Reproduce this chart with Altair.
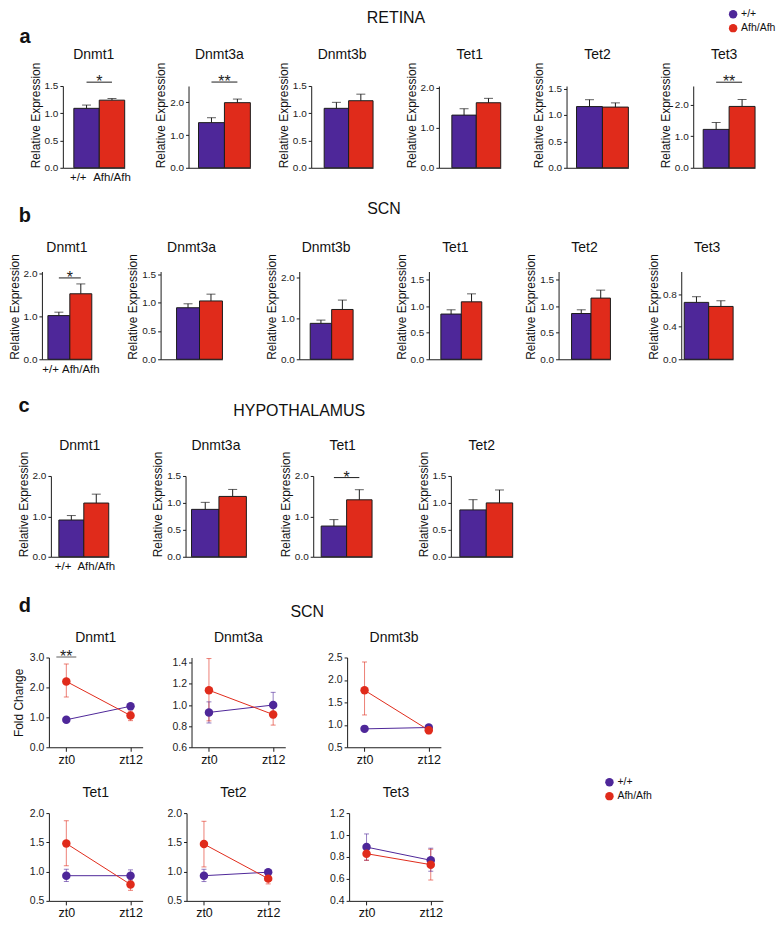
import altair as alt
import pandas as pd

FONT = "Liberation Sans"
PURPLE = "#4e2799"
RED = "#e02b1b"
INK = "#1c1c1c"

genotypes = ["+/+", "Afh/Afh"]

# ---------------- a : RETINA ----------------
a_genes = ["Dnmt1", "Dnmt3a", "Dnmt3b", "Tet1", "Tet2", "Tet3"]
a_wt = [1.09, 1.38, 1.09, 1.32, 1.16, 1.22]
a_wt_hi = [1.15, 1.53, 1.20, 1.48, 1.29, 1.44]
a_mut = [1.24, 1.99, 1.23, 1.63, 1.15, 1.95]
a_mut_hi = [1.27, 2.10, 1.35, 1.74, 1.23, 2.17]
a_ymax = [1.5, 2.5, 1.5, 2.05, 1.55, 2.6]
a_ticks = [[0, 0.5, 1, 1.5], [0, 1, 2], [0, 0.5, 1, 1.5], [0, 1, 2], [0, 0.5, 1, 1.5], [0, 1, 2]]
a_sig = {"Dnmt1": ("*", 1.57), "Dnmt3a": ("**", 2.62), "Tet3": ("**", 2.72)}

# ---------------- b : SCN ----------------
b_genes = ["Dnmt1", "Dnmt3a", "Dnmt3b", "Tet1", "Tet2", "Tet3"]
b_wt = [1.02, 0.91, 0.88, 0.85, 0.86, 0.70]
b_wt_hi = [1.10, 0.98, 0.96, 0.93, 0.93, 0.77]
b_mut = [1.53, 1.03, 1.22, 1.08, 1.15, 0.65]
b_mut_hi = [1.76, 1.15, 1.45, 1.23, 1.30, 0.72]
b_ymax = [2.05, 1.55, 2.15, 1.65, 1.65, 1.08]
b_ticks = [[0, 1, 2], [0, 0.5, 1, 1.5], [0, 1, 2], [0, 0.5, 1, 1.5], [0, 0.5, 1, 1.5], [0, 0.4, 0.8]]
b_sig = {"Dnmt1": ("*", 1.9)}

# ---------------- c : HYPOTHALAMUS ----------------
c_genes = ["Dnmt1", "Dnmt3a", "Tet1", "Tet2"]
c_wt = [0.91, 0.88, 0.76, 0.87]
c_wt_hi = [1.02, 1.01, 0.92, 1.06]
c_mut = [1.33, 1.12, 1.41, 1.00]
c_mut_hi = [1.55, 1.25, 1.66, 1.24]
c_ymax = [2.0, 1.5, 2.0, 1.5]
c_ticks = [[0, 1, 2], [0, 0.5, 1, 1.5], [0, 1, 2], [0, 0.5, 1, 1.5]]
c_sig = {"Tet1": ("*", 1.96)}

# ---------------- d : SCN time course ----------------
d_times = ["zt0", "zt12"]
d_genes = ["Dnmt1", "Dnmt3a", "Dnmt3b", "Tet1", "Tet2", "Tet3"]
d_wt = [[0.92, 1.37], [0.93, 1.00], [0.91, 0.94], [0.93, 0.93], [0.93, 0.99], [0.89, 0.77]]
d_wt_lo = [[0.86, 1.30], [0.83, 0.88], [0.86, 0.88], [0.83, 0.84], [0.83, 0.95], [0.77, 0.67]]
d_wt_hi = [[0.98, 1.44], [1.03, 1.12], [0.97, 1.00], [1.04, 1.03], [1.04, 1.03], [1.01, 0.88]]
d_mut = [[2.20, 1.06], [1.14, 0.91], [1.77, 0.88], [1.48, 0.78], [1.47, 0.88], [0.83, 0.73]]
d_mut_lo = [[1.68, 0.89], [0.85, 0.81], [1.22, 0.80], [1.10, 0.68], [1.08, 0.79], [0.77, 0.59]]
d_mut_hi = [[2.78, 1.21], [1.44, 1.00], [2.40, 0.96], [1.87, 0.87], [1.86, 0.96], [0.89, 0.87]]
d_ymin = [0, 0.6, 0.5, 0.5, 0.5, 0.4]
d_ymax = [3.0, 1.45, 2.5, 2.0, 2.0, 1.2]
d_ticks = [[0, 1, 2, 3], [0.6, 0.8, 1.0, 1.2, 1.4], [0.5, 1, 1.5, 2, 2.5],
           [0.5, 1, 1.5, 2], [0.5, 1, 1.5, 2], [0.4, 0.6, 0.8, 1.0, 1.2]]
d_sig = {"Dnmt1": ("**", 3.02)}

# ---------------- layout (pixels) ----------------
FULL_W = 760
LAY_A = dict(top=77, height=82, bottom=25, lead=55, gaps=[64, 61, 66, 66, 65],
             widths=[62] * 6, lefts=[11, 10, 13, 13, 10, 10], toff=27)
LAY_B = dict(top=79, height=88, bottom=24, lead=34, gaps=[69, 77, 76, 77, 71],
             widths=[50, 62, 54, 53, 52, 52], lefts=[6, 16, 11, 12, 13, 3], toff=20)
LAY_C = dict(top=93, height=81, bottom=24, lead=43, gaps=[77, 67, 79],
             widths=[58, 61, 59, 62], lefts=[8, 6, 8, 9], toff=26)
LAY_D1 = dict(top=77, height=90, bottom=21, lead=41, gaps=[49, 62], width=94, toff=16)
LAY_D2 = dict(top=45, height=88, bottom=19, lead=41, gaps=[44, 69], width=94, toff=16)

color_enc = alt.Color("genotype:N", scale=alt.Scale(domain=genotypes, range=[PURPLE, RED]), legend=None)


def panel_title(text, width, toff):
    return alt.Chart(pd.DataFrame({"t": [text]})).mark_text(
        fontSize=14, align="center", baseline="alphabetic", color="#111"
    ).encode(text="t:N", x=alt.value(width / 2), y=alt.value(-toff))


def bar_panel(i, genes, wt, wt_hi, mut, mut_hi, ymax, ticks, sigs, width, left, height, toff, show_x):
    gene = genes[i]
    df = pd.DataFrame({"genotype": genotypes, "value": [wt[i], mut[i]], "hi": [wt_hi[i], mut_hi[i]]})
    xs = alt.Scale(domain=genotypes, paddingInner=0, paddingOuter=left / (width - left), align=1)
    xa = alt.Axis(title=None, ticks=False, labels=show_x, labelAngle=0, labelFontSize=11.5,
                  labelPadding=4, labelColor="#111",
                  labelAlign={"condition": {"test": "datum.value === '+/+'", "value": "right"},
                              "value": "center"})
    ys = alt.Scale(domain=[0, ymax[i]], nice=False, zero=True)
    ya = alt.Axis(values=ticks[i], format=".1f", title="Relative Expression", titleAnchor="start",
                  titlePadding=2)

    def X(band=None):
        if band is None:
            return alt.X("genotype:N", sort=genotypes, scale=xs, axis=xa)
        return alt.X("genotype:N", sort=genotypes, scale=xs, axis=xa, bandPosition=band)

    def Y(f):
        return alt.Y(f, scale=ys, axis=ya)

    base = alt.Chart(df)
    bars = base.mark_bar(stroke=INK, strokeWidth=1).encode(x=X(), y=Y("value:Q"), color=color_enc)
    err = base.mark_rule(color=INK, strokeWidth=1).encode(x=X(), y=Y("value:Q"), y2="hi:Q")
    cap = base.mark_tick(color=INK, size=9, thickness=1).encode(x=X(), y=Y("hi:Q"))
    layers = [bars, err, cap]
    if gene in sigs:
        star, level = sigs[gene]
        sdf = pd.DataFrame({"genotype": [genotypes[0]], "other": [genotypes[1]],
                            "value": [level], "star": [star]})
        sb = alt.Chart(sdf)
        layers.append(sb.mark_rule(color=INK, strokeWidth=1).encode(
            x=X(), x2="other:N", y=Y("value:Q")))
        layers.append(sb.mark_text(fontSize=16, dy=5, baseline="alphabetic", color=INK)
                      .encode(x=X(1), y=Y("value:Q"), text="star:N"))
    layers.append(panel_title(gene, width, toff))
    return alt.layer(*layers).properties(width=width, height=height)


def point_panel(i, width, height, toff, ytitle):
    rows = []
    for g, v, lo, hi in ((genotypes[0], d_wt, d_wt_lo, d_wt_hi), (genotypes[1], d_mut, d_mut_lo, d_mut_hi)):
        for j, t in enumerate(d_times):
            rows.append({"genotype": g, "time": t, "value": v[i][j], "lo": lo[i][j], "hi": hi[i][j]})
    df = pd.DataFrame(rows)
    xs = alt.Scale(type="point", domain=d_times, padding=0.23, align=0.59)
    xa = alt.Axis(title=None, labelAngle=0, labelFontSize=12.5, tickSize=4, labelPadding=2, labelColor="#111")
    ys = alt.Scale(domain=[d_ymin[i], d_ymax[i]], nice=False, zero=False)
    ya = alt.Axis(values=d_ticks[i], format=".1f", title=ytitle, titlePadding=4, labelFontSize=10.5)

    def X():
        return alt.X("time:N", sort=d_times, scale=xs, axis=xa)

    def Y(f):
        return alt.Y(f, scale=ys, axis=ya)

    base = alt.Chart(df)
    err = base.mark_rule(strokeWidth=1, opacity=0.6).encode(x=X(), y=Y("lo:Q"), y2="hi:Q", color=color_enc)
    cap_lo = base.mark_tick(size=5, thickness=1, opacity=0.6).encode(x=X(), y=Y("lo:Q"), color=color_enc)
    cap_hi = base.mark_tick(size=5, thickness=1, opacity=0.6).encode(x=X(), y=Y("hi:Q"), color=color_enc)
    line = base.mark_line(strokeWidth=1).encode(x=X(), y=Y("value:Q"), color=color_enc)
    pts = base.mark_circle(size=72, opacity=1).encode(x=X(), y=Y("value:Q"), color=color_enc)
    layers = [err, cap_lo, cap_hi, line, pts]
    gene = d_genes[i]
    if gene in d_sig:
        star, level = d_sig[gene]
        sdf = pd.DataFrame({"time": [d_times[0]], "value": [level], "star": [star]})
        sb = alt.Chart(sdf)
        layers.append(sb.mark_tick(color=INK, size=20, thickness=1).encode(x=X(), y=Y("value:Q")))
        layers.append(sb.mark_text(fontSize=16, dy=5, baseline="alphabetic", color=INK)
                      .encode(x=X(), y=Y("value:Q"), text="star:N"))
    layers.append(panel_title(gene, width, toff))
    return alt.layer(*layers).properties(width=width, height=height)


def gap(width):
    return alt.Chart(pd.DataFrame({"k": [""]})).mark_text().encode(
        text="k:N", x=alt.value(0), y=alt.value(0)).properties(width=width, height=10)


def lead(lay, texts=(), dots=()):
    frame = alt.Chart(pd.DataFrame({"k": [0]})).mark_rect(opacity=0).encode(
        x=alt.value(0), x2=alt.value(FULL_W),
        y=alt.value(-lay["top"]), y2=alt.value(lay["height"] + lay["bottom"]))
    layers = [frame]
    for t, x, y, size, weight in texts:
        layers.append(alt.Chart(pd.DataFrame({"t": [t]})).mark_text(
            fontSize=size, fontWeight=weight, align="center", baseline="alphabetic", color="#111"
        ).encode(text="t:N", x=alt.value(x), y=alt.value(y)))
    for col, label, x, y in dots:
        layers.append(alt.Chart(pd.DataFrame({"t": [label]})).mark_circle(
            size=72, color=col, opacity=1).encode(x=alt.value(x), y=alt.value(y)))
        layers.append(alt.Chart(pd.DataFrame({"t": [label]})).mark_text(
            fontSize=10.5, align="left", baseline="middle", color="#111"
        ).encode(text="t:N", x=alt.value(x + 8), y=alt.value(y)))
    return alt.layer(*layers).properties(width=lay["lead"], height=lay["height"])


def bar_row(lay, genes, wt, wt_hi, mut, mut_hi, ymax, ticks, sigs, texts, dots=()):
    charts = [lead(lay, texts, dots)]
    for i in range(len(genes)):
        if i > 0:
            charts.append(gap(lay["gaps"][i - 1]))
        charts.append(bar_panel(i, genes, wt, wt_hi, mut, mut_hi, ymax, ticks, sigs,
                                lay["widths"][i], lay["lefts"][i], lay["height"], lay["toff"], i == 0))
    return alt.hconcat(*charts, spacing=0, bounds="flush")


def point_row(lay, idx, texts, dots=()):
    charts = [lead(lay, texts, dots)]
    for k, i in enumerate(idx):
        if k > 0:
            charts.append(gap(lay["gaps"][k - 1]))
        charts.append(point_panel(i, lay["width"], lay["height"], lay["toff"],
                                  "Fold Change" if i == 0 else None))
    return alt.hconcat(*charts, spacing=0, bounds="flush")


row_a = bar_row(LAY_A, a_genes, a_wt, a_wt_hi, a_mut, a_mut_hi, a_ymax, a_ticks, a_sig,
                texts=[("RETINA", 389, -63, 16, "normal"), ("a", 17, -43, 20, "bold")],
                dots=[(PURPLE, "+/+", 727, -72), (RED, "Afh/Afh", 727, -58)])
row_b = bar_row(LAY_B, b_genes, b_wt, b_wt_hi, b_mut, b_mut_hi, b_ymax, b_ticks, b_sig,
                texts=[("SCN", 377, -58, 16, "normal"), ("b", 17, -50, 20, "bold")])
row_c = bar_row(LAY_C, c_genes, c_wt, c_wt_hi, c_mut, c_mut_hi, c_ymax, c_ticks, c_sig,
                texts=[("HYPOTHALAMUS", 292, -60, 16, "normal"), ("c", 16, -64, 20, "bold")])
row_d1 = point_row(LAY_D1, [0, 1, 2],
                   texts=[("SCN", 300, -41, 16, "normal"), ("d", 17, -46, 20, "bold")])
row_d2 = point_row(LAY_D2, [3, 4, 5], texts=[],
                   dots=[(PURPLE, "+/+", 603, -31), (RED, "Afh/Afh", 603, -17)])

chart = alt.vconcat(row_a, row_b, row_c, row_d1, row_d2, spacing=0).properties(
    padding=0
).configure(font=FONT).configure_view(stroke=None).configure_axis(
    domainColor=INK, tickColor=INK, labelColor="#222", titleColor="#111",
    labelFont=FONT, titleFont=FONT, labelFontSize=10, titleFontSize=12,
    titleFontWeight="normal", grid=False, tickSize=3, domainWidth=1, tickWidth=1,
    labelPadding=2
)

chart.save("out.html", embed_options={"renderer": "svg", "actions": False})
